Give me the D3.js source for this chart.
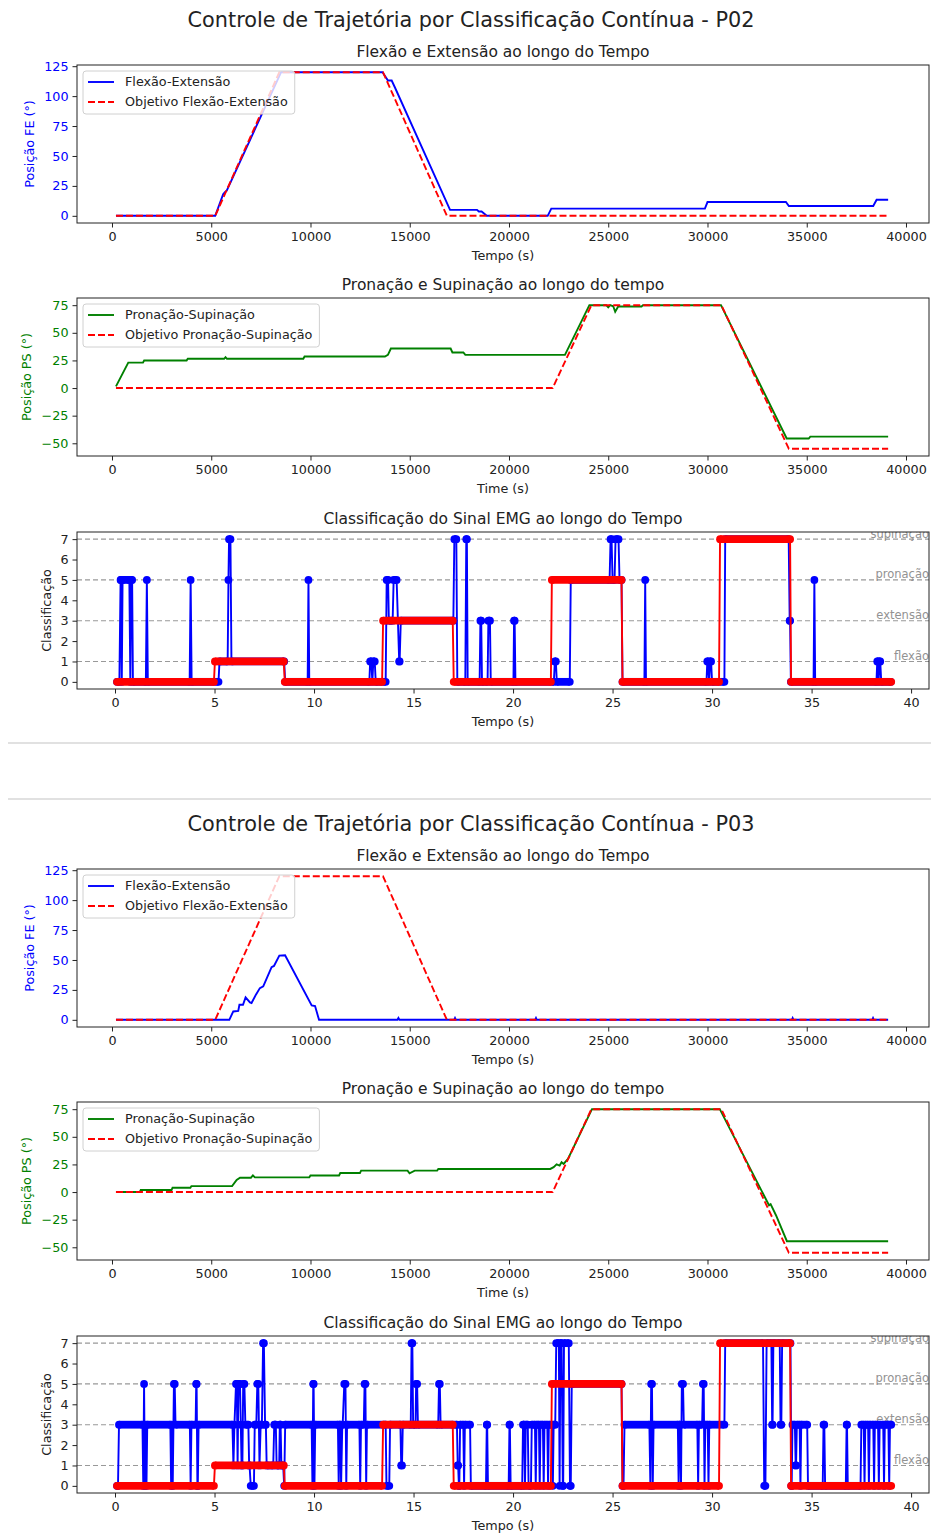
<!DOCTYPE html>
<html>
<head>
<meta charset="utf-8">
<script src="https://cdn.jsdelivr.net/npm/d3@7"></script>
<style>
  body { margin: 0; background: #fff; }
  text { font-family: "DejaVu Sans", sans-serif; }
</style>
</head>
<body>
<svg id="chart"></svg>
<script>
// tick values and labels
const timeTicks = [0, 5000, 10000, 15000, 20000, 25000, 30000, 35000, 40000];
const secTicks = [0, 5, 10, 15, 20, 25, 30, 35, 40];
const feTicks = [0, 25, 50, 75, 100, 125];
const psTicks = [-50, -25, 0, 25, 50, 75];
const classTicks = [0, 1, 2, 3, 4, 5, 6, 7];
const classLevels = [1, 3, 5, 7];
const classNames = ['flexão', 'extensão', 'pronação', 'supinação'];
const participants = ['P02', 'P03'];

// target trajectories [time, angle]
const targetFE = [[200,0],[5200,0],[8430,120],[13650,120],[16870,0],[39100,0]];
const targetPS = [[200,0],[22200,0],[24150,75],[30700,75],[34100,-55],[39100,-55]];
// target class runs [t0, t1, class]
const targetClass = [[0.1,4.97,0],[5.02,8.48,1],[8.53,13.42,0],[13.47,16.97,3],[17.02,21.9,0],
  [21.95,25.45,5],[25.5,30.35,0],[30.4,33.92,7],[33.97,39.0,0]];

// P02
const p02FE = [[200,0],[5200,0],[5600,18],[5700,20],[5780,21],[8520,120],[13630,120],[13900,113],
  [14090,113],[14260,107],[17030,5],[18390,5],[18480,3.6],[18620,3.6],[18880,0],[21950,0],[22130,6],
  [29870,6],[30000,11.5],[33950,11.5],[34100,8.2],[38350,8.2],[38520,13.4],[39100,13.4]];
const p02PS = [[200,1.5],[820,23],[1560,23],[1620,25],[3760,25],[3820,26.5],[5650,26.5],[5720,28],
  [5790,26.5],[9640,26.5],[9700,28.5],[13750,28.5],[13900,30],[14050,35.8],[17060,35.8],[17150,32.2],
  [17700,32.2],[17800,30],[22820,30],[24050,75],[24900,75],[25000,73],[25100,75],[25250,74],[25350,69],
  [25500,73.8],[26680,73.8],[26750,75],[30680,75],[33990,-45.7],[35100,-45.7],[35180,-44],[39100,-44]];
const p02Class = [[0.1,0.22,0],[0.28,0.3,5],[0.34,0.34,0],[0.38,0.72,5],[0.77,0.77,0],[0.81,0.86,5],
  [0.9,1.55,0],[1.6,1.6,5],[1.65,3.75,0],[3.8,3.8,5],[3.85,5.2,0],[5.25,5.66,1],[5.7,5.7,5],
  [5.73,5.8,7],[5.85,8.5,1],[8.55,9.68,0],[9.72,9.72,5],[9.76,12.78,0],[12.82,12.88,1],[12.93,12.93,0],
  [12.98,13.05,1],[13.1,13.6,0],[13.65,13.72,5],[13.76,13.95,3],[14.0,14.15,5],[14.28,14.3,1],
  [14.36,17.0,3],[17.05,17.15,7],[17.2,17.6,0],[17.65,17.68,7],[17.72,18.32,0],[18.36,18.4,3],
  [18.44,18.72,0],[18.76,18.84,3],[18.88,20.02,0],[20.05,20.08,3],[20.12,22.05,0],[22.1,22.15,1],
  [22.2,22.85,0],[22.9,24.85,5],[24.9,24.95,7],[25.0,25.1,5],[25.15,25.3,7],[25.35,25.45,5],
  [25.5,26.6,0],[26.64,26.64,5],[26.68,29.72,0],[29.76,29.8,1],[29.85,29.85,0],[29.9,29.95,1],
  [30.0,30.62,0],[30.66,33.85,7],[33.9,33.92,3],[33.96,35.1,0],[35.14,35.14,5],[35.18,38.26,0],
  [38.3,38.33,1],[38.37,38.37,0],[38.41,38.45,1],[38.5,38.98,0]];

// P03
const p03FE = [[200,0],[5910,0],[6110,7],[6360,7.5],[6420,12.6],[6600,12.6],[6730,18.7],[6950,14.5],
  [7030,14],[7250,21],[7450,26.5],[7620,28],[8040,44],[8160,45],[8430,53.7],[8720,54],[10060,12],
  [10230,11.5],[10430,0],[14380,0],[14430,1.5],[14480,0],[17240,0],[17280,1.5],[17320,0],[21320,0],
  [21360,1.5],[21400,0],[34250,0],[34290,1.5],[34330,0],[38300,0],[38340,1.5],[38380,0],[39100,0]];
const p03PS = [[200,0],[1400,0],[1450,1.8],[3000,1.8],[3050,3.9],[3950,3.9],[4000,5.4],[6050,5.4],
  [6280,11],[6450,13],[7000,13],[7100,15],[7200,13.3],[9940,13.3],[10000,15],[11440,15],[11500,17.2],
  [12490,17.2],[12550,19.4],[14890,19.4],[14990,17],[15250,19.4],[16380,19.4],[16440,20.9],
  [22080,20.9],[22250,22.5],[22400,25],[22550,24],[22650,27],[22750,25.5],[22970,30],[24180,75],
  [30620,75],[33100,-12],[33180,-11],[33450,-21],[34000,-44.5],[39100,-44.5]];
const p03Class = [[0.1,0.15,0],[0.2,1.38,3],[1.42,1.42,0],[1.46,1.46,5],[1.5,1.5,0],[1.54,1.54,3],
  [1.58,1.58,0],[1.62,2.78,3],[2.82,2.82,0],[2.86,2.86,3],[2.9,2.9,0],[2.96,3.0,5],[3.04,3.76,3],
  [3.8,3.8,0],[3.84,4.05,3],[4.08,4.1,5],[4.14,4.16,0],[4.2,5.9,3],[5.95,5.95,1],[6.0,6.0,3],
  [6.08,6.12,5],[6.16,6.16,1],[6.2,6.28,5],[6.32,6.32,3],[6.36,6.4,1],[6.44,6.5,5],[6.55,6.7,3],
  [6.74,6.76,1],[6.82,6.98,0],[7.02,7.1,3],[7.15,7.2,5],[7.26,7.26,1],[7.32,7.38,3],[7.44,7.48,7],
  [7.54,7.58,3],[7.62,7.95,1],[8.0,8.08,3],[8.12,8.25,1],[8.28,8.32,3],[8.36,8.45,1],[8.5,8.5,0],
  [8.55,9.88,3],[9.92,9.92,0],[9.96,9.98,5],[10.02,10.02,0],[10.06,11.2,3],[11.24,11.24,0],
  [11.28,11.32,3],[11.36,11.36,0],[11.42,11.44,3],[11.52,11.58,5],[11.62,11.62,0],[11.66,12.28,3],
  [12.32,12.32,0],[12.36,12.5,3],[12.54,12.58,5],[12.62,12.62,0],[12.66,13.6,3],[13.64,13.78,0],
  [13.82,14.34,3],[14.38,14.42,1],[14.46,14.86,3],[14.9,14.94,7],[14.98,15.1,3],[15.13,15.18,5],
  [15.22,16.24,3],[16.28,16.32,5],[16.36,17.18,3],[17.22,17.24,1],[17.28,17.3,0],[17.34,17.5,3],
  [17.54,17.54,0],[17.58,17.84,3],[17.88,18.64,0],[18.68,18.7,3],[18.74,19.78,0],[19.82,19.84,3],
  [19.88,20.46,0],[20.5,20.56,3],[20.6,20.6,0],[20.64,20.74,3],[20.78,20.9,0],[20.94,21.1,3],
  [21.14,21.14,0],[21.18,21.3,3],[21.34,21.34,0],[21.38,21.5,3],[21.54,21.54,0],[21.58,21.72,3],
  [21.76,21.76,0],[21.8,21.96,3],[22.0,22.0,0],[22.04,22.12,3],[22.17,22.3,7],[22.34,22.34,0],
  [22.38,22.44,7],[22.5,22.52,0],[22.56,22.8,7],[22.86,22.9,0],[22.95,25.45,5],[25.5,25.55,0],
  [25.6,26.85,3],[26.9,26.9,0],[26.94,26.98,5],[27.02,27.02,0],[27.06,28.28,3],[28.32,28.32,0],
  [28.36,28.4,3],[28.44,28.44,0],[28.48,28.54,5],[28.58,29.26,3],[29.3,29.3,0],[29.34,29.5,3],
  [29.54,29.58,5],[29.62,29.62,0],[29.66,29.78,3],[29.82,29.82,0],[29.86,30.62,3],[30.66,32.56,7],
  [32.62,32.68,0],[32.74,32.98,7],[33.02,33.04,3],[33.08,33.4,7],[33.44,33.48,3],[33.52,33.94,7],
  [33.98,34.0,0],[34.04,34.16,3],[34.2,34.22,1],[34.26,34.4,3],[34.44,34.44,0],[34.48,34.78,3],
  [34.82,35.56,0],[35.6,35.64,3],[35.68,36.72,0],[36.76,36.78,3],[36.82,37.46,0],[37.5,37.62,3],
  [37.66,37.66,0],[37.7,37.84,3],[37.88,37.88,0],[37.92,38.1,3],[38.14,38.14,0],[38.18,38.34,3],
  [38.38,38.38,0],[38.42,38.6,3],[38.64,38.64,0],[38.68,38.86,3],[38.9,38.9,0],[38.94,39.0,3]];

const feData = [p02FE, p03FE];
const psData = [p02PS, p03PS];
const classData = [p02Class, p03Class];

const W = 931, H = 1533;
const axLeft = 77, axRight = 929;
const panels = [{top: 65, bottom: 223}, {top: 298, bottom: 456}, {top: 532, bottom: 689}];
const figOffset = 804;
const ink = '#222';
const fs = 12.75;
const lw = 1.9;
const markerR = 3.9;

const svg = d3.select('#chart').attr('width', W).attr('height', H);
svg.append('rect').attr('width', W).attr('height', H).attr('fill', '#fff');

// notebook cell separators
[743, 799].forEach(yy => {
  svg.append('line')
    .attr('x1', 8).attr('x2', W).attr('y1', yy).attr('y2', yy)
    .attr('stroke', '#c4c4c4').attr('stroke-width', 1.2);
});

const xTime = d3.scaleLinear().domain([-1763, 41159]).range([axLeft, axRight]);
const xSec = d3.scaleLinear().domain([-1.91, 40.9]).range([axLeft, axRight]);

let clipCount = 0;

let drawFrame = function(g, p, x, y, xt, yt, yColor, xLabel, yLabel, yLabelX, title) {
  const xa = g.append('g')
    .attr('transform', `translate(0,${p.bottom})`)
    .call(d3.axisBottom(x).tickValues(xt).tickSize(4.5).tickPadding(4).tickFormat(d3.format('d')));
  const ya = g.append('g')
    .attr('transform', `translate(${axLeft},0)`)
    .call(d3.axisLeft(y).tickValues(yt).tickSize(4.5).tickPadding(4).tickFormat(d3.format('d')));
  [xa, ya].forEach(a => {
    a.select('.domain').remove();
    a.attr('font-size', fs).attr('font-family', '"DejaVu Sans", sans-serif');
    a.selectAll('line').attr('stroke', ink);
    a.selectAll('text').attr('fill', ink);
  });
  ya.selectAll('text').attr('fill', yColor);

  g.append('text')
    .attr('x', (axLeft + axRight) / 2).attr('y', p.bottom + 37)
    .attr('text-anchor', 'middle').attr('font-size', fs).attr('fill', ink)
    .text(xLabel);
  g.append('text')
    .attr('transform', `translate(${yLabelX},${(p.top + p.bottom) / 2}) rotate(-90)`)
    .attr('text-anchor', 'middle').attr('dy', '0.35em')
    .attr('font-size', fs).attr('fill', yColor)
    .text(yLabel);
  g.append('text')
    .attr('x', (axLeft + axRight) / 2).attr('y', p.top - 8.5)
    .attr('text-anchor', 'middle').attr('font-size', 15.5).attr('fill', ink)
    .text(title);

  const id = 'clip' + (clipCount++);
  g.append('clipPath').attr('id', id)
    .append('rect')
    .attr('x', axLeft).attr('y', p.top)
    .attr('width', axRight - axLeft).attr('height', p.bottom - p.top);
  return g.append('g').attr('clip-path', `url(#${id})`);
}

let drawSpines = function(g, p) {
  g.append('rect')
    .attr('x', axLeft).attr('y', p.top)
    .attr('width', axRight - axLeft).attr('height', p.bottom - p.top)
    .attr('fill', 'none').attr('stroke', ink).attr('stroke-width', 1);
}

let drawLegend = function(g, p, items) {
  const lg = g.append('g').attr('transform', `translate(${axLeft + 6},${p.top + 6})`);
  const box = lg.append('rect')
    .attr('rx', 3).attr('ry', 3)
    .attr('fill', '#fff').attr('fill-opacity', 0.8)
    .attr('stroke', '#d0d0d0').attr('stroke-width', 1);
  const texts = [];
  items.forEach((it, i) => {
    const cy = 11 + i * 20;
    lg.append('line')
      .attr('x1', 5).attr('x2', 31).attr('y1', cy).attr('y2', cy)
      .attr('stroke', it.color).attr('stroke-width', lw)
      .attr('stroke-dasharray', it.dash);
    texts.push(lg.append('text')
      .attr('x', 42).attr('y', cy).attr('dy', '0.35em')
      .attr('font-size', fs).attr('fill', ink)
      .text(it.label).node());
  });
  const w = d3.max(texts, t => t.getComputedTextLength());
  box.attr('width', 42 + w + 7).attr('height', 43);
}

let drawSeries = function(g, data, x, y, color, dash) {
  g.append('path')
    .datum(data)
    .attr('d', d3.line().x(d => x(d[0])).y(d => y(d[1])))
    .attr('fill', 'none').attr('stroke', color).attr('stroke-width', lw)
    .attr('stroke-dasharray', dash);
}

let drawRuns = function(g, runs, x, y, color) {
  const pts = runs.flatMap(r => [[r[0], r[2]], [r[1], r[2]]]);
  const sg = g.append('g');
  sg.append('path')
    .datum(pts)
    .attr('d', d3.line().x(d => x(d[0])).y(d => y(d[1])))
    .attr('fill', 'none').attr('stroke', color).attr('stroke-width', lw);
  sg.selectAll('.band')
    .data(runs.filter(r => r[1] > r[0]))
    .join('line')
    .attr('class', 'band')
    .attr('x1', r => x(r[0])).attr('x2', r => x(r[1]))
    .attr('y1', r => y(r[2])).attr('y2', r => y(r[2]))
    .attr('stroke', color).attr('stroke-width', markerR * 2);
  sg.selectAll('.mk')
    .data(runs.flatMap(r => r[1] > r[0] ? [[r[0], r[2]], [r[1], r[2]]] : [[r[0], r[2]]]))
    .join('circle')
    .attr('class', 'mk')
    .attr('cx', d => x(d[0])).attr('cy', d => y(d[1]))
    .attr('r', markerR).attr('fill', color);
}

participants.forEach((name, k) => {
  const g = svg.append('g').attr('transform', `translate(0,${k * figOffset})`);

  g.append('text')
    .attr('x', 471).attr('y', 27)
    .attr('text-anchor', 'middle').attr('font-size', 20.8).attr('fill', ink)
    .text(`Controle de Trajetória por Classificação Contínua - ${name}`);

  // flexion / extension
  const p1 = panels[0];
  const yFE = d3.scaleLinear().domain([-6, 126]).range([p1.bottom, p1.top]);
  const c1 = drawFrame(g, p1, xTime, yFE, timeTicks, feTicks, 'blue',
    'Tempo (s)', 'Posição FE (°)', 29.5, 'Flexão e Extensão ao longo do Tempo');
  drawSeries(c1, feData[k], xTime, yFE, 'blue', null);
  drawSeries(c1, targetFE, xTime, yFE, 'red', '7,3');
  drawSpines(g, p1);
  drawLegend(g, p1, [
    {label: 'Flexão-Extensão', color: 'blue', dash: null},
    {label: 'Objetivo Flexão-Extensão', color: 'red', dash: '7,3'}
  ]);

  // pronation / supination
  const p2 = panels[1];
  const yPS = d3.scaleLinear().domain([-61.5, 81.5]).range([p2.bottom, p2.top]);
  const c2 = drawFrame(g, p2, xTime, yPS, timeTicks, psTicks, 'green',
    'Time (s)', 'Posição PS (°)', 27, 'Pronação e Supinação ao longo do tempo');
  drawSeries(c2, psData[k], xTime, yPS, 'green', null);
  drawSeries(c2, targetPS, xTime, yPS, 'red', '7,3');
  drawSpines(g, p2);
  drawLegend(g, p2, [
    {label: 'Pronação-Supinação', color: 'green', dash: null},
    {label: 'Objetivo Pronação-Supinação', color: 'red', dash: '7,3'}
  ]);

  // EMG classification
  const p3 = panels[2];
  const yC = d3.scaleLinear().domain([-0.35, 7.35]).range([p3.bottom, p3.top]);
  const c3 = drawFrame(g, p3, xSec, yC, secTicks, classTicks, ink,
    'Tempo (s)', 'Classificação', 46.5, 'Classificação do Sinal EMG ao longo do Tempo');
  classLevels.forEach((lv, i) => {
    c3.append('line')
      .attr('x1', axLeft).attr('x2', axRight).attr('y1', yC(lv)).attr('y2', yC(lv))
      .attr('stroke', 'gray').attr('stroke-width', 1.1).attr('opacity', 0.8)
      .attr('stroke-dasharray', '5,3');
    c3.append('text')
      .attr('x', axRight).attr('y', yC(lv) - 1.5)
      .attr('text-anchor', 'end').attr('font-size', 11.5)
      .attr('fill', 'gray').attr('opacity', 0.85)
      .text(classNames[i]);
  });
  drawRuns(c3, classData[k], xSec, yC, 'blue');
  drawRuns(c3, targetClass, xSec, yC, 'red');
  drawSpines(g, p3);
});
</script>
</body>
</html>
